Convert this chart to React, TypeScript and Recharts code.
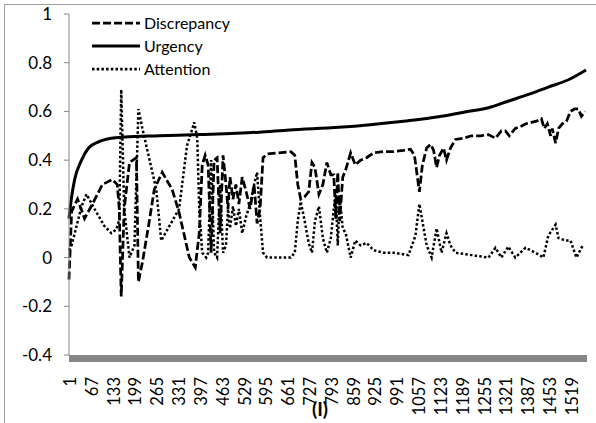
import { LineChart, Line, XAxis, YAxis, Legend, ReferenceArea } from 'recharts';

// values (x = sample index, y = value)
const discrepancyX = [1, 9, 27, 48, 72, 102, 132, 147, 153, 159, 168, 184, 205, 211, 223, 244, 259, 283, 313, 334, 365, 383, 395, 404, 413, 422, 431, 440, 449, 458, 467, 476, 482, 488, 497, 506, 515, 525, 537, 549, 561, 570, 579, 588, 600, 636, 672, 684, 693, 702, 714, 726, 736, 745, 757, 769, 781, 793, 802, 808, 814, 820, 829, 838, 853, 867, 883, 901, 923, 953, 983, 1013, 1034, 1046, 1055, 1061, 1070, 1083, 1095, 1104, 1113, 1122, 1134, 1143, 1155, 1170, 1195, 1219, 1246, 1270, 1291, 1309, 1321, 1333, 1351, 1370, 1385, 1400, 1415, 1430, 1439, 1448, 1458, 1463, 1473, 1482, 1494, 1506, 1518, 1530, 1542, 1551, 1562];
const discrepancyY = [-0.09, 0.19, 0.24, 0.16, 0.22, 0.3, 0.32, 0.3, 0.2, -0.16, 0.2, 0.39, 0.41, -0.1, -0.02, 0.15, 0.28, 0.35, 0.28, 0.185, 0.0, -0.04, 0.1, 0.38, 0.42, 0.38, 0.02, 0.4, 0.41, 0.1, 0.42, 0.3, 0.2, 0.33, 0.24, 0.3, 0.22, 0.33, 0.27, 0.2, 0.3, 0.14, 0.2, 0.41, 0.425, 0.43, 0.435, 0.42, 0.3, 0.24, 0.25, 0.27, 0.39, 0.37, 0.26, 0.3, 0.39, 0.34, 0.34, 0.16, 0.35, 0.15, 0.33, 0.36, 0.43, 0.38, 0.4, 0.41, 0.43, 0.435, 0.435, 0.44, 0.445, 0.42, 0.33, 0.27, 0.38, 0.45, 0.465, 0.44, 0.37, 0.42, 0.45, 0.4, 0.45, 0.485, 0.49, 0.5, 0.5, 0.505, 0.49, 0.52, 0.52, 0.5, 0.53, 0.54, 0.55, 0.555, 0.56, 0.57, 0.53, 0.55, 0.5, 0.53, 0.47, 0.53, 0.55, 0.56, 0.6, 0.61, 0.61, 0.58, 0.6];

const urgencyX = [1, 9, 18, 39, 60, 90, 129, 170, 274, 395, 576, 667, 818, 1013, 1119, 1195, 1270, 1331, 1391, 1451, 1512, 1565];
const urgencyY = [0.16, 0.25, 0.32, 0.4, 0.45, 0.475, 0.49, 0.495, 0.5, 0.505, 0.515, 0.524, 0.535, 0.56, 0.578, 0.597, 0.615, 0.643, 0.67, 0.7, 0.73, 0.77];

const attentionX = [1, 9, 39, 54, 78, 108, 129, 144, 153, 159, 168, 184, 199, 211, 223, 265, 280, 334, 358, 380, 389, 395, 404, 416, 422, 431, 440, 449, 458, 467, 476, 482, 488, 497, 506, 515, 525, 537, 549, 561, 570, 579, 588, 600, 636, 672, 684, 693, 702, 714, 726, 736, 745, 757, 769, 781, 793, 802, 808, 814, 820, 829, 838, 853, 867, 883, 901, 923, 953, 983, 1028, 1049, 1061, 1070, 1083, 1098, 1113, 1128, 1143, 1155, 1170, 1219, 1270, 1291, 1309, 1330, 1351, 1382, 1412, 1436, 1451, 1473, 1482, 1503, 1518, 1536, 1557];
const attentionY = [0.03, 0.05, 0.21, 0.26, 0.2, 0.13, 0.1, 0.115, 0.155, 0.69, 0.2, 0.0, 0.05, 0.61, 0.53, 0.28, 0.07, 0.2, 0.46, 0.555, 0.49, 0.2, 0.02, 0.0, 0.02, 0.4, 0.02, 0.0, 0.3, 0.02, 0.05, 0.2, 0.12, 0.21, 0.13, 0.2, 0.1, 0.17, 0.22, 0.3, 0.35, 0.17, 0.02, 0.0, 0.0, 0.0, 0.02, 0.15, 0.23, 0.15, 0.06, 0.02, 0.15, 0.21, 0.08, 0.02, 0.08, 0.2, 0.26, 0.05, 0.25, 0.12, 0.1, 0.0, 0.07, 0.05, 0.06, 0.03, 0.02, 0.02, 0.01, 0.09, 0.22, 0.15, 0.05, 0.0, 0.12, 0.02, 0.1, 0.05, 0.02, 0.01, 0.0, 0.04, 0.0, 0.045, 0.0, 0.04, 0.02, 0.0, 0.09, 0.135, 0.08, 0.07, 0.07, 0.0, 0.055];

const xTicks = [1, 67, 133, 199, 265, 331, 397, 463, 529, 595, 661, 727, 793, 859, 925, 991, 1057, 1123, 1189, 1255, 1321, 1387, 1453, 1519];
const yTicks = [-0.4, -0.2, 0, 0.2, 0.4, 0.6, 0.8, 1];

const seriesNames = ['Discrepancy', 'Urgency', 'Attention'];
const seriesDash = ['8 3', undefined, '2.5 2.2'];

const zip = (xs: number[], ys: number[]) => xs.map((x, i) => ({ x, v: ys[i] }));
const discrepancyData = zip(discrepancyX, discrepancyY);
const urgencyData = zip(urgencyX, urgencyY);
const attentionData = zip(attentionX, attentionY);

const FONT = 'Lato, "Open Sans", sans-serif';

function XTick(props: any) {
  const { x, y, payload } = props;
  return (
    <text
      transform={`translate(${x + 1},${y + 22}) rotate(-90)`}
      textAnchor="end"
      dominantBaseline="central"
      fontSize={16.5}
      fontFamily={FONT}
      fill="#000"
    >
      {payload.value}
    </text>
  );
}

function LegendBox() {
  return (
    <div style={{ fontFamily: FONT, fontSize: 16, color: '#000' }}>
      {seriesNames.map((name, i) => (
        <div key={name} style={{ display: 'flex', alignItems: 'center', height: 23 }}>
          <svg width={48} height={10} style={{ marginRight: 4 }}>
            <line x1={0} y1={5} x2={48} y2={5} stroke="#000" strokeWidth={i === 1 ? 3 : 2.75} strokeDasharray={seriesDash[i]} />
          </svg>
          <span>{name}</span>
        </div>
      ))}
    </div>
  );
}

export default function App() {
  return (
    <div style={{ position: 'absolute', left: 0, top: 0, width: 596, height: 423, background: '#fff', overflow: 'hidden' }}>
      <div style={{ position: 'absolute', left: 4, top: 4, width: 600, height: 430, borderLeft: '1px solid #a0a0a0', borderTop: '1px solid #a0a0a0' }} />
      <LineChart width={596} height={423} margin={{ top: 14, right: 9, bottom: 0, left: 0 }}>
        <XAxis
          dataKey="x"
          type="number"
          domain={[1, 1568]}
          ticks={xTicks}
          interval={0}
          tick={<XTick />}
          tickLine={false}
          tickSize={0}
          tickMargin={0}
          axisLine={false}
          height={68}
          label={{ value: '(I)', position: 'insideBottom', offset: 7, dx: -8, fontSize: 19, fontWeight: 'bold', fontFamily: FONT, fill: '#000' }}
        />
        <YAxis
          type="number"
          domain={[-0.4, 1]}
          ticks={yTicks}
          width={69}
          axisLine={{ stroke: '#868686' }}
          tickLine={{ stroke: '#868686' }}
          tickSize={5}
          tickMargin={12}
          tick={{ fontSize: 17, fontFamily: FONT, fill: '#000' }}
        />
        <ReferenceArea y1={-0.4} y2={-0.429} ifOverflow="visible" fill="#868686" fillOpacity={1} stroke="none" />
        <Legend
          layout="horizontal"
          verticalAlign="middle"
          align="center"
          wrapperStyle={{ left: 92, top: 11, width: 'auto' }}
          content={() => <LegendBox />}
        />
        <Line data={attentionData} dataKey="v" name="Attention" stroke="#000" strokeWidth={2.5} strokeDasharray={seriesDash[2]} dot={false} isAnimationActive={false} />
        <Line data={discrepancyData} dataKey="v" name="Discrepancy" stroke="#000" strokeWidth={2.75} strokeDasharray={seriesDash[0]} dot={false} isAnimationActive={false} />
        <Line data={urgencyData} type="monotone" dataKey="v" name="Urgency" stroke="#000" strokeWidth={3} dot={false} isAnimationActive={false} />
      </LineChart>
    </div>
  );
}
